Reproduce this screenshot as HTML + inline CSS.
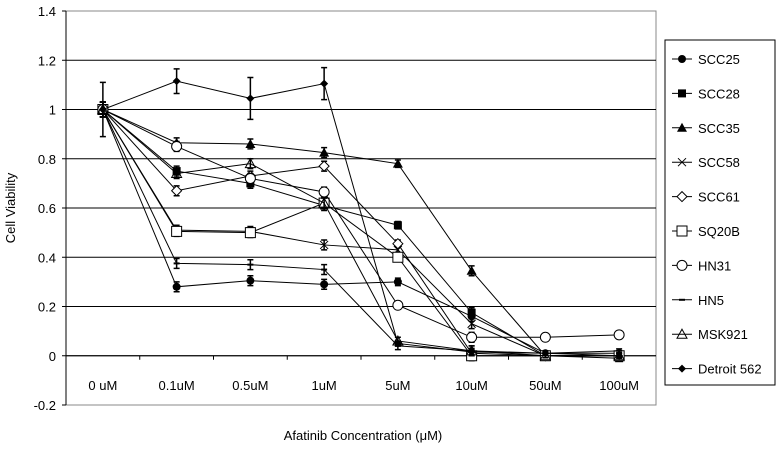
<!DOCTYPE html>
<html><head><meta charset="utf-8"><style>
body{margin:0;background:#fff;font-family:"Liberation Sans",sans-serif}
text{font-family:"Liberation Sans",sans-serif;fill:#000}
</style></head><body>
<svg id="c" width="780" height="445" xmlns="http://www.w3.org/2000/svg"></svg>
<script>
const categories=["0 uM","0.1uM","0.5uM","1uM","5uM","10uM","50uM","100uM"];
const yTicks=[-0.2,0,0.2,0.4,0.6,0.8,1,1.2,1.4];
const seriesNames=["SCC25","SCC28","SCC35","SCC58","SCC61","SQ20B","HN31","HN5","MSK921","Detroit 562"];
const SCC25=[1,0.28,0.305,0.29,0.30,0.16,0.01,0.01];
const SCC28=[1,0.75,0.70,0.61,0.53,0.175,0.0,-0.01];
const SCC35=[1,0.865,0.86,0.825,0.78,0.345,0.0,0.0];
const SCC58=[1,0.51,0.505,0.45,0.43,0.13,0.0,0.0];
const SCC61=[1,0.67,0.73,0.77,0.455,0.01,0.0,0.0];
const SQ20B=[1,0.505,0.50,0.62,0.40,0.0,0.0,0.0];
const HN31=[1,0.85,0.72,0.665,0.205,0.075,0.075,0.085];
const HN5=[1,0.375,0.37,0.35,0.04,0.02,0.01,0.02];
const MSK921=[1,0.74,0.78,0.62,0.06,0.02,0.0,0.0];
const Detroit562=[1,1.115,1.045,1.105,0.05,0.015,0.01,0.0];
const errors=[0.03,0.02,0.02,0.02,0.015,0.02,0.008,0.008];
const errD=[0.11,0.05,0.085,0.065,0.01,0.01,0.01,0.01];
const markers=["fcircle","fsquare","ftri","x","odiamond","osquare","ocircle","dash","otri","fdiamond"];
const series=[SCC25,SCC28,SCC35,SCC58,SCC61,SQ20B,HN31,HN5,MSK921,Detroit562];
const svg=document.getElementById('c');const NS="http://www.w3.org/2000/svg";
const L=66,R=656,T=11,B=405,yMin=-0.2,yMax=1.4;
const x=i=>L+(i+0.5)*(R-L)/categories.length;
const y=v=>B-(v-yMin)/(yMax-yMin)*(B-T);
function mk(t,a,p){const e=document.createElementNS(NS,t);for(const k in a)e.setAttribute(k,a[k]);(p||svg).appendChild(e);return e;}
function marker(type,cx,cy,g){
 const s=4;
 if(type=="fcircle")mk('circle',{cx,cy,r:s,fill:'#000'},g);
 if(type=="ocircle")mk('circle',{cx,cy,r:s+1,fill:'#fff',stroke:'#000'},g);
 if(type=="fsquare")mk('rect',{x:cx-s,y:cy-s,width:2*s,height:2*s,fill:'#000'},g);
 if(type=="osquare")mk('rect',{x:cx-s-1,y:cy-s-1,width:2*s+2,height:2*s+2,fill:'#fff',stroke:'#000'},g);
 if(type=="ftri")mk('polygon',{points:`${cx},${cy-s-1} ${cx+s+1},${cy+s} ${cx-s-1},${cy+s}`,fill:'#000'},g);
 if(type=="otri")mk('polygon',{points:`${cx},${cy-s-1} ${cx+s+1},${cy+s} ${cx-s-1},${cy+s}`,fill:'none',stroke:'#000'},g);
 if(type=="fdiamond")mk('polygon',{points:`${cx},${cy-s} ${cx+s},${cy} ${cx},${cy+s} ${cx-s},${cy}`,fill:'#000'},g);
 if(type=="odiamond")mk('polygon',{points:`${cx},${cy-s-1} ${cx+s+1},${cy} ${cx},${cy+s+1} ${cx-s-1},${cy}`,fill:'#fff',stroke:'#000'},g);
 if(type=="x"){mk('path',{d:`M${cx-s} ${cy-s}L${cx+s} ${cy+s}M${cx+s} ${cy-s}L${cx-s} ${cy+s}`,stroke:'#000'},g);}
 if(type=="dash")mk('line',{x1:cx-3,y1:cy,x2:cx+3,y2:cy,stroke:'#000','stroke-width':2},g);
}
mk('rect',{x:L,y:T,width:R-L,height:B-T,fill:'#fff',stroke:'#888'});
mk('line',{x1:L,y1:T,x2:L,y2:B,stroke:'#000'});
yTicks.forEach(v=>{
 const g=mk('g',{});
 if(v>yMin&&v<yMax)mk('line',{x1:L,y1:y(v),x2:R,y2:y(v),stroke:'#000','stroke-width':1},g);
 mk('line',{x1:L-4,y1:y(v),x2:L,y2:y(v),stroke:'#000'},g);
 const t=mk('text',{x:L-10,y:y(v)+5,'text-anchor':'end','font-size':13},g);t.textContent=String(v);
});
categories.forEach((c,i)=>{
 const g=mk('g',{});
 mk('line',{x1:L+i*(R-L)/8,y1:y(0),x2:L+i*(R-L)/8,y2:y(0)+4,stroke:'#000'},g);
 const t=mk('text',{x:x(i),y:390,'text-anchor':'middle','font-size':13},g);t.textContent=c;
});
mk('line',{x1:L,y1:y(0),x2:R,y2:y(0),stroke:'#000'});
let t=mk('text',{x:363,y:440,'text-anchor':'middle','font-size':13});t.textContent="Afatinib Concentration (μM)";

t=mk('text',{transform:'translate(15,208) rotate(-90)','text-anchor':'middle','font-size':13});t.textContent="Cell Viability";

series.forEach((d,si)=>{
 const g=mk('g',{});
 mk('polyline',{points:d.map((v,i)=>x(i)+','+y(v)).join(' '),fill:'none',stroke:'#000','stroke-width':1},g);
 d.forEach((v,i)=>{
  const e=si==9?errD[i]:errors[i];
  mk('path',{d:`M${x(i)} ${y(v+e)}V${y(v-e)}M${x(i)-3} ${y(v+e)}h6M${x(i)-3} ${y(v-e)}h6`,stroke:'#000','stroke-width':1.5},g);
  marker(markers[si],x(i),y(v),g);
 });
});
const lg=mk('g',{});
mk('rect',{x:665,y:40,width:110,height:345,fill:'#fff',stroke:'#000'},lg);
seriesNames.forEach((n,i)=>{
 const g=mk('g',{},lg);
 const yy=59+i*34.4;
 mk('line',{x1:672,y1:yy,x2:692,y2:yy,stroke:'#000'},g);
 marker(markers[i],682,yy,g);
 const tt=mk('text',{x:698,y:yy+5,'font-size':13},g);tt.textContent=n;
});
</script>
</body></html>
